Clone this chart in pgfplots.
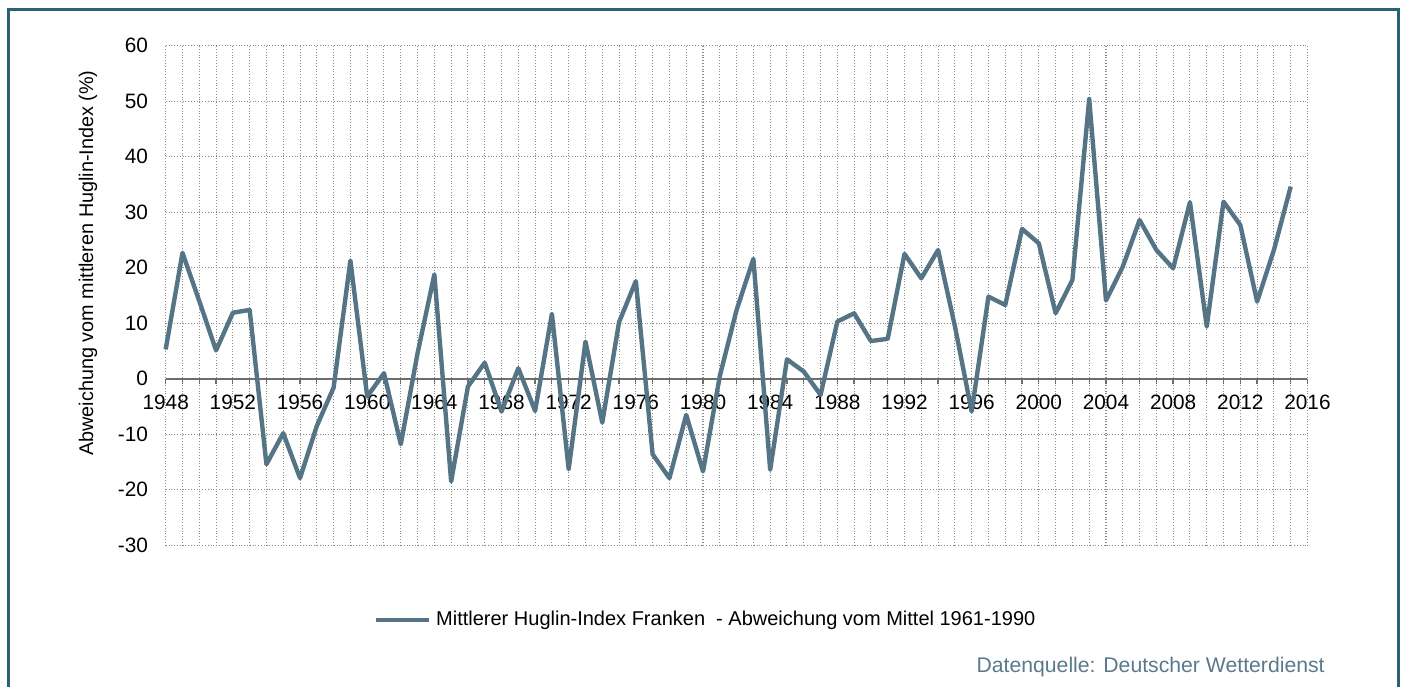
\documentclass[border=0pt]{standalone}
\usepackage{pgfplots}
\pgfplotsset{compat=1.18}
\usepackage{fontspec}
\setmainfont{Liberation Sans}
\definecolor{frame}{RGB}{42,98,115}
\definecolor{series}{RGB}{85,117,134}
\definecolor{src}{RGB}{90,122,140}
\definecolor{axisgray}{RGB}{110,110,110}
\definecolor{gridgray}{RGB}{140,140,140}
\begin{document}
\begin{tikzpicture}
\path[use as bounding box] (0,0) rectangle (702pt,-343pt);
\draw[frame, line width=1.5pt] (4pt,-345pt) -- (4pt,-4.5pt) -- (699pt,-4.5pt) -- (699pt,-345pt);
\begin{axis}[
  at={(82.85pt,-272.65pt)}, anchor=south west,
  scale only axis, width=570.9pt, height=249.8pt,
  xmin=1948, xmax=2016, ymin=-30, ymax=60,
  axis x line=middle, axis y line=left,
  hide obscured x ticks=false,
  x axis line style={draw=axisgray, line width=0.75pt, -},
  y axis line style={draw=none, -},
  xtick={1948,1952,...,2016},
  minor xtick={1948,1949,...,2016},
  ytick={-30,-20,...,60},
  tick align=outside,
  major tick length=2.8pt, minor tick length=2.8pt,
  xtick style={draw=axisgray, line width=0.6pt},
  minor x tick style={draw=axisgray, line width=0.6pt},
  ytick style={draw=none},
  grid=both,
  major grid style={draw=gridgray, densely dotted, line width=0.5pt},
  minor grid style={draw=gridgray, densely dotted, line width=0.5pt},
  /pgf/number format/assume math mode=true,
  /pgf/number format/1000 sep={},
  ticklabel style={font=\fontsize{10.4pt}{12pt}\selectfont},
  xticklabel style={yshift=-2pt},
  yticklabel style={xshift=-2.5pt},
  ylabel={Abweichung vom mittleren Huglin-Index (\%)},
  ylabel style={at={(axis description cs:-0.068,0.565)}, anchor=center, font=\fontsize{9.9pt}{12pt}\selectfont},
  legend style={at={(0.1819,-0.1495)}, anchor=west, draw=none, fill=none, inner sep=0pt, outer sep=0pt,
    nodes={inner sep=0pt}, column sep=2.5pt, font=\fontsize{10pt}{12pt}\selectfont},
  legend image code/.code={\draw[#1] (0pt,0pt) -- (26.7pt,0pt);},
  clip=false,
]
\addplot[series, line width=2.2pt, line join=round, mark=none] coordinates {
(1948,5.3) (1949,22.7) (1950,14.0) (1951,5.1) (1952,11.9) (1953,12.4)
(1954,-15.4) (1955,-9.8) (1956,-17.9) (1957,-8.5) (1958,-1.6) (1959,21.3)
(1960,-3.2) (1961,1.0) (1962,-11.8) (1963,4.6) (1964,18.8) (1965,-18.5)
(1966,-1.4) (1967,2.9) (1968,-5.9) (1969,1.9) (1970,-5.8) (1971,11.7)
(1972,-16.3) (1973,6.7) (1974,-7.9) (1975,10.2) (1976,17.6) (1977,-13.6)
(1978,-17.9) (1979,-6.5) (1980,-16.7) (1981,0.5) (1982,12.4) (1983,21.6)
(1984,-16.4) (1985,3.5) (1986,1.3) (1987,-2.9) (1988,10.3) (1989,11.8)
(1990,6.8) (1991,7.2) (1992,22.5) (1993,18.1) (1994,23.2) (1995,9.5)
(1996,-5.9) (1997,14.8) (1998,13.3) (1999,27.0) (2000,24.4) (2001,11.8)
(2002,17.8) (2003,50.4) (2004,14.1) (2005,20.2) (2006,28.6) (2007,23.2)
(2008,19.9) (2009,31.8) (2010,9.4) (2011,31.9) (2012,27.7) (2013,13.9)
(2014,23.2) (2015,34.6)
};
\addlegendentry{Mittlerer Huglin-Index Franken\ \ - Abweichung vom Mittel 1961-1990}
\end{axis}
\node[anchor=base east, inner sep=0pt, text=src, font=\fontsize{10.6pt}{12pt}\selectfont] at (662.5pt,-336.2pt) {Datenquelle: Deutscher Wetterdienst};
\end{tikzpicture}
\end{document}
